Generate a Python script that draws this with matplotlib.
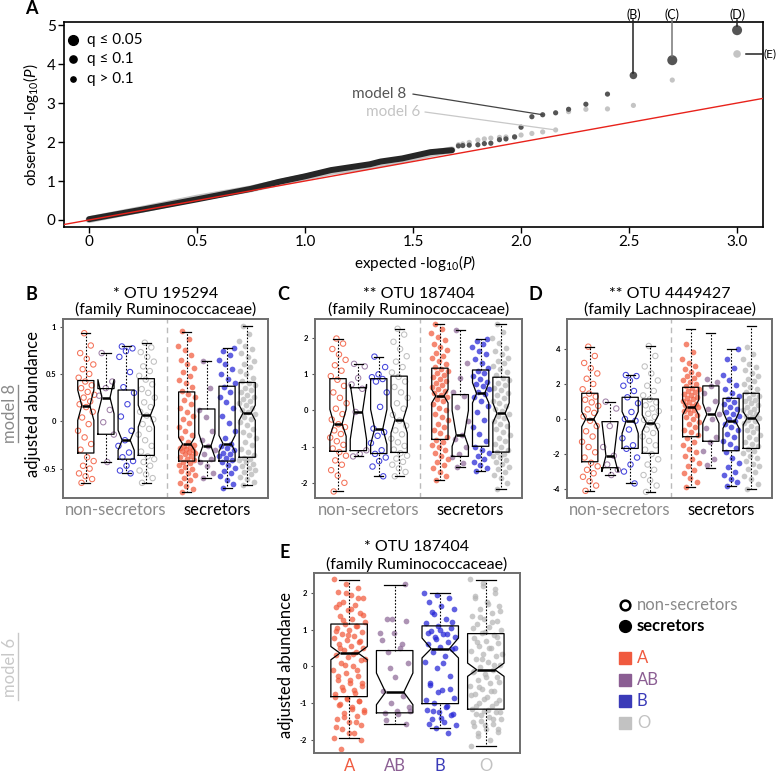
import numpy as np
import matplotlib
matplotlib.use('Agg')
import matplotlib.pyplot as plt
from matplotlib.lines import Line2D
from matplotlib.patches import Rectangle

plt.rcParams['font.family'] = ['Lato', 'DejaVu Sans']
plt.rcParams['mathtext.fontset'] = 'custom'
plt.rcParams['mathtext.rm'] = 'Lato'
plt.rcParams['mathtext.it'] = 'Lato:italic'

# ---------------- data: panel A (QQ plot) ----------------
# upper tail, one point per OTU (expected, observed -log10 P)
qq_expected = [3.00, 2.70, 2.52, 2.40, 2.30, 2.22, 2.16, 2.10, 2.05, 2.00,
               1.97, 1.93, 1.90, 1.86, 1.83, 1.80, 1.76, 1.73, 1.71]
qq_obs_m8 = [4.87, 4.10, 3.71, 3.23, 2.97, 2.84, 2.75, 2.70, 2.65, 2.38,
             2.13, 2.08, 2.06, 1.97, 1.96, 1.93, 1.92, 1.91, 1.90]
qq_obs_m6 = [4.26, 3.59, 2.94, 2.85, 2.84, 2.78, 2.31, 2.26, 2.22, 2.18,
             2.14, 2.13, 2.12, 2.10, 2.08, 2.05, 1.99, 1.95, 1.93]
# significance class: 2 = q<=0.05, 1 = q<=0.1, 0 = q>0.1
qq_sig_m8 = [2, 2, 1] + [0] * 16
qq_sig_m6 = [1] + [0] * 18
# dense lower part of the curve
band_expected = [0.0, 0.25, 0.5, 0.75, 0.88, 1.0, 1.12, 1.3, 1.35, 1.45, 1.58, 1.68]
band_obs_m8 = [0.02, 0.27, 0.53, 0.80, 0.98, 1.12, 1.28, 1.43, 1.50, 1.58, 1.74, 1.79]
band_obs_m6 = [0.01, 0.28, 0.56, 0.80, 0.96, 1.10, 1.24, 1.38, 1.44, 1.54, 1.70, 1.80]

# ---------------- data: box panels ----------------
blood = ['A', 'AB', 'B', 'O']
# per group: whisker low, q1, notch low, median, notch high, q3, whisker high
# order: non-secretors A, AB, B, O, secretors A, AB, B, O
stats_B = [
    [-0.65, -0.335, 0.01, 0.166, 0.33, 0.43, 0.93],
    [-0.43, -0.137, 0.08, 0.25, 0.44, 0.345, 0.72],
    [-0.55, -0.40, -0.306, -0.20, -0.095, 0.33, 0.79],
    [-0.65, -0.36, -0.06, 0.063, 0.17, 0.45, 0.83],
    [-0.75, -0.42, -0.31, -0.24, -0.17, 0.31, 0.94],
    [-0.60, -0.42, -0.38, -0.26, -0.13, 0.13, 0.64],
    [-0.70, -0.42, -0.32, -0.235, -0.15, 0.37, 0.77],
    [-0.67, -0.38, 0.01, 0.09, 0.17, 0.41, 1.01],
]
stats_C = [
    [-2.24, -1.13, -0.71, -0.37, 0.03, 0.88, 1.99],
    [-1.27, -1.11, -0.80, -0.04, 0.72, 0.63, 1.29],
    [-1.82, -1.19, -0.94, -0.50, 0.03, 0.88, 1.49],
    [-1.82, -1.16, -0.62, -0.25, 0.12, 0.95, 2.26],
    [-1.93, -0.80, 0.21, 0.40, 0.58, 1.17, 2.38],
    [-1.57, -1.27, -0.99, -0.67, 0.0, 0.44, 2.23],
    [-1.68, -0.99, 0.21, 0.47, 0.77, 1.12, 1.99],
    [-2.17, -1.15, -0.34, -0.08, 0.21, 0.92, 2.38],
]
stats_D = [
    [-4.10, -2.44, -0.44, 0.0, 0.42, 1.47, 4.13],
    [-3.20, -2.78, -3.00, -2.10, -0.15, -0.15, 0.99],
    [-3.68, -1.68, -0.82, -0.10, 0.42, 1.24, 2.51],
    [-4.16, -1.96, -0.71, -0.21, 0.23, 1.14, 4.17],
    [-3.90, -1.01, 0.23, 0.67, 1.09, 1.81, 5.12],
    [-2.82, -1.27, -0.24, 0.27, 0.90, 1.89, 4.90],
    [-3.80, -1.81, -0.53, -0.10, 0.42, 1.18, 4.00],
    [-3.98, -1.68, -0.34, 0.06, 0.42, 1.47, 5.33],
]
stats_E = [
    [-1.95, -0.82, 0.18, 0.36, 0.54, 1.15, 2.34],
    [-1.57, -1.26, -1.04, -0.70, -0.18, 0.43, 2.22],
    [-1.67, -1.01, 0.23, 0.48, 0.77, 1.10, 1.99],
    [-2.17, -1.16, -0.27, -0.09, 0.09, 0.89, 2.34],
]

# adjusted abundance of individual samples (per group, same order)
pts_B = [
    [-0.65, -0.61, -0.58, -0.55, -0.5, -0.47, -0.42, -0.38, -0.3, -0.24, -0.17, -0.1, -0.03, 0.04, 0.1, 0.15,
     0.18, 0.21, 0.25, 0.28, 0.31, 0.35, 0.38, 0.42, 0.46, 0.5, 0.55, 0.6, 0.66, 0.72, 0.8, 0.93],
    [0.72, 0.42, 0.35, 0.27, 0.12, -0.01, -0.14, -0.43],
    [0.79, 0.77, 0.74, 0.68, 0.52, 0.36, 0.3, 0.18, 0.05, -0.1, -0.2, -0.26, -0.33, -0.38, -0.42, -0.47, -0.52, -0.55],
    [-0.65, -0.6, -0.56, -0.52, -0.47, -0.43, -0.4, -0.37, -0.32, -0.26, -0.2, -0.14, -0.08, -0.03, 0.02, 0.06,
     0.1, 0.15, 0.2, 0.25, 0.3, 0.34, 0.39, 0.44, 0.48, 0.53, 0.58, 0.63, 0.68, 0.73, 0.78, 0.83],
    [-0.75, -0.71, -0.68, -0.65, -0.62, -0.6, -0.57, -0.55, -0.52, -0.5, -0.48, -0.46, -0.44, -0.43,
     -0.41, -0.4, -0.38, -0.37, -0.35, -0.34, -0.32, -0.31, -0.3, -0.29, -0.28, -0.27, -0.26, -0.25,
     -0.22, -0.18, -0.14, -0.1, -0.06, -0.02, 0.02, 0.06, 0.1, 0.14, 0.18, 0.22, 0.26, 0.29,
     0.32, 0.36, 0.4, 0.44, 0.48, 0.52, 0.56, 0.6, 0.65, 0.7, 0.75, 0.8, 0.87, 0.95],
    [-0.6, -0.55, -0.47, -0.43, -0.4, -0.35, -0.3, -0.26, -0.2, -0.1, 0.05, 0.12, 0.35, 0.64],
    [-0.7, -0.66, -0.62, -0.58, -0.55, -0.52, -0.49, -0.46, -0.43, -0.41, -0.39, -0.37, -0.35, -0.33, -0.3, -0.28,
     -0.26, -0.24, -0.18, -0.1, -0.02, 0.06, 0.14, 0.2, 0.26, 0.31, 0.36, 0.4, 0.45, 0.5, 0.55, 0.6, 0.65, 0.7,
     0.74, 0.77],
    [-0.67, -0.64, -0.61, -0.59, -0.56, -0.54, -0.51, -0.49, -0.47, -0.45, -0.43, -0.41, -0.4, -0.39,
     -0.36, -0.32, -0.29, -0.25, -0.22, -0.18, -0.15, -0.11, -0.08, -0.04, -0.01, 0.02, 0.05, 0.08,
     0.1, 0.12, 0.14, 0.17, 0.19, 0.21, 0.24, 0.26, 0.28, 0.31, 0.33, 0.35, 0.38, 0.4,
     0.43, 0.46, 0.5, 0.53, 0.57, 0.6, 0.64, 0.68, 0.72, 0.76, 0.8, 0.85, 0.92, 1.01],
]
pts_C = [
    [-2.24, -2.0, -1.8, -1.65, -1.5, -1.38, -1.25, -1.15, -1.05, -0.95, -0.85, -0.75, -0.65, -0.55, -0.46, -0.38,
     -0.25, -0.1, 0.05, 0.2, 0.35, 0.5, 0.68, 0.85, 0.95, 1.1, 1.25, 1.4, 1.55, 1.7, 1.85, 1.99],
    [1.29, 1.22, 0.9, 0.72, 0.6, -0.04, -1.1, -1.2, -1.27],
    [1.49, 1.2, 1.0, 0.92, 0.87, 0.8, 0.5, 0.1, -0.5, -0.6, -0.7, -0.9, -1.1, -1.2, -1.3, -1.4, -1.55, -1.82],
    [-1.82, -1.7, -1.6, -1.5, -1.42, -1.33, -1.25, -1.18, -1.08, -0.98, -0.88, -0.78, -0.66, -0.55, -0.42, -0.28,
     -0.12, 0.05, 0.2, 0.35, 0.5, 0.65, 0.8, 0.93, 1.05, 1.2, 1.35, 1.5, 1.7, 1.9, 2.1, 2.26],
    [-1.93, -1.8, -1.7, -1.6, -1.5, -1.42, -1.34, -1.26, -1.18, -1.1, -1.02, -0.95, -0.88, -0.82,
     -0.72, -0.63, -0.54, -0.45, -0.36, -0.27, -0.18, -0.09, 0.0, 0.08, 0.17, 0.25, 0.32, 0.38,
     0.44, 0.49, 0.55, 0.6, 0.66, 0.71, 0.77, 0.82, 0.88, 0.93, 0.99, 1.04, 1.1, 1.15,
     1.2, 1.28, 1.36, 1.44, 1.52, 1.6, 1.68, 1.76, 1.85, 1.94, 2.03, 2.13, 2.25, 2.38],
    [2.23, 1.3, 0.9, 0.5, 0.4, 0.1, -0.3, -0.67, -0.8, -1.0, -1.2, -1.3, -1.45, -1.57],
    [-1.68, -1.6, -1.5, -1.42, -1.33, -1.25, -1.17, -1.08, -1.0, -0.85, -0.65, -0.45, -0.25, -0.05, 0.12, 0.27,
     0.38, 0.46, 0.52, 0.6, 0.67, 0.74, 0.8, 0.88, 0.95, 1.03, 1.1, 1.18, 1.3, 1.42, 1.55, 1.65, 1.75, 1.85,
     1.93, 1.99],
    [-2.17, -2.0, -1.88, -1.78, -1.7, -1.62, -1.55, -1.48, -1.42, -1.36, -1.3, -1.25, -1.2, -1.16,
     -1.08, -1.0, -0.92, -0.84, -0.76, -0.68, -0.6, -0.52, -0.44, -0.36, -0.28, -0.21, -0.14, -0.09,
     -0.02, 0.05, 0.12, 0.2, 0.27, 0.34, 0.42, 0.49, 0.56, 0.63, 0.7, 0.77, 0.84, 0.91,
     0.98, 1.06, 1.14, 1.22, 1.3, 1.38, 1.46, 1.55, 1.64, 1.74, 1.86, 2.0, 2.18, 2.38],
]
pts_D = [
    [-4.1, -3.8, -3.55, -3.3, -3.1, -2.9, -2.7, -2.5, -2.2, -1.9, -1.6, -1.3, -1.0, -0.7, -0.4, -0.1,
     0.15, 0.35, 0.55, 0.75, 0.95, 1.1, 1.28, 1.45, 1.7, 2.0, 2.3, 2.6, 2.9, 3.2, 3.6, 4.13],
    [0.99, 0.6, -0.4, -1.6, -2.1, -2.6, -2.9, -3.2],
    [2.51, 2.45, 2.2, 1.9, 1.6, 1.24, 0.9, 0.4, 0.0, -0.1, -0.6, -1.1, -1.5, -1.7, -2.2, -2.6, -3.0, -3.68],
    [-4.16, -3.8, -3.5, -3.2, -2.9, -2.6, -2.3, -2.0, -1.75, -1.5, -1.25, -1.0, -0.8, -0.6, -0.4, -0.22,
     -0.05, 0.12, 0.3, 0.45, 0.6, 0.78, 0.95, 1.12, 1.35, 1.6, 1.9, 2.2, 2.6, 3.0, 3.6, 4.17],
    [-3.9, -3.6, -3.35, -3.1, -2.9, -2.7, -2.5, -2.3, -2.1, -1.9, -1.7, -1.5, -1.3, -1.1,
     -0.9, -0.75, -0.6, -0.45, -0.3, -0.15, 0.0, 0.12, 0.24, 0.35, 0.45, 0.53, 0.6, 0.66,
     0.72, 0.8, 0.88, 0.96, 1.04, 1.12, 1.2, 1.28, 1.36, 1.44, 1.52, 1.6, 1.7, 1.79,
     1.9, 2.0, 2.1, 2.2, 2.32, 2.44, 2.56, 2.7, 2.85, 3.0, 3.2, 3.45, 3.8, 4.3],
    [2.3, 2.1, 1.9, 1.5, 1.0, 0.6, 0.27, 0.0, -0.5, -1.0, -1.3, -1.8, -2.3, -2.6],
    [-3.8, -3.6, -3.4, -3.2, -3.0, -2.75, -2.5, -2.2, -1.9, -1.65, -1.45, -1.25, -1.05, -0.85, -0.65, -0.45,
     -0.28, -0.12, 0.0, 0.15, 0.28, 0.42, 0.56, 0.7, 0.84, 0.98, 1.15, 1.3, 1.5, 1.7, 1.95, 2.2, 2.5, 2.9,
     3.4, 4.0],
    [-3.98, -3.7, -3.45, -3.25, -3.05, -2.85, -2.7, -2.55, -2.4, -2.25, -2.1, -1.95, -1.82, -1.7,
     -1.55, -1.42, -1.29, -1.16, -1.03, -0.9, -0.77, -0.64, -0.51, -0.38, -0.25, -0.13, -0.03, 0.04,
     0.1, 0.2, 0.3, 0.4, 0.5, 0.6, 0.7, 0.8, 0.9, 1.0, 1.1, 1.2, 1.3, 1.42,
     1.55, 1.7, 1.85, 2.0, 2.15, 2.3, 2.45, 2.6, 2.78, 2.96, 3.15, 3.4, 3.7, 4.1],
]
# model 6 (panel E) uses the same OTU as panel C, all samples pooled per blood group
pts_E = [pts_C[k] + pts_C[k + 4] for k in range(4)]

ticks_B = [-0.5, 0, 0.5, 1]
ticks_C = [-2, -1, 0, 1, 2]
ticks_D = [-4, -2, 0, 2, 4]
ticks_E = [-2, -1, 0, 1, 2]

# ---------------- styling ----------------
blood_colors = ['#f25a3c', '#8e6a98', '#2424d6', '#b5b5b5']
legend_colors = ['#f05a3f', '#8b5e93', '#3a3ab8', '#c2c2c2']
m8_color = '#555555'
m6_color = '#c4c4c4'

W, H = 779, 773
fig = plt.figure(figsize=(W / 100, H / 100), dpi=100)


def axes_px(l, t, r, b):
    return fig.add_axes([l / W, 1 - b / H, (r - l) / W, (b - t) / H])


def text_px(x, y, s, **kw):
    kw.setdefault('ha', 'center')
    kw.setdefault('va', 'center')
    return fig.text(x / W, 1 - y / H, s, **kw)


def line_px(xs, ys, **kw):
    fig.add_artist(Line2D([x / W for x in xs], [1 - y / H for y in ys], **kw))


# ---------------- panel A ----------------
axA = axes_px(64, 22, 763, 227)
axA.set_xlim(-0.116, 3.12)
axA.set_ylim(-0.18, 5.08)
axA.plot(band_expected, band_obs_m6, color=m6_color, lw=5, solid_capstyle='round', zorder=2)
axA.plot(band_expected, band_obs_m8, color='#262626', lw=4.3, solid_capstyle='round', zorder=3)
axA.plot([-0.3, 3.3], [-0.3, 3.3], color='#e8221b', lw=1, zorder=4)
sig_size = {0: 14, 1: 30, 2: 52}
axA.scatter(qq_expected, qq_obs_m6, s=[sig_size[k] for k in qq_sig_m6], color=m6_color,
            linewidths=0, zorder=5)
axA.scatter(qq_expected, qq_obs_m8, s=[sig_size[k] for k in qq_sig_m8], color=m8_color,
            linewidths=0, zorder=6)

axA.set_xticks([0, 0.5, 1, 1.5, 2, 2.5, 3])
axA.set_xticklabels(['0', '0.5', '1.0', '1.5', '2.0', '2.5', '3.0'])
axA.set_yticks([0, 1, 2, 3, 4, 5])
axA.tick_params(labelsize=11, length=4, width=1, pad=2)
for sp in axA.spines.values():
    sp.set_linewidth(1.2)

# annotations of the model lines
axA.plot([1.50, 2.10], [3.23, 2.70], color='#444444', lw=0.9, zorder=7)
axA.text(1.47, 3.23, 'model 8', ha='right', va='center', fontsize=11, color=m8_color)
axA.plot([1.556, 2.16], [2.77, 2.31], color='#c8c8c8', lw=0.9, zorder=7)
axA.text(1.532, 2.77, 'model 6', ha='right', va='center', fontsize=11, color=m6_color)

axA.plot([2.52, 2.52], [5.12, 3.78], color='#222222', lw=1.1, clip_on=False, zorder=7)
axA.text(2.52, 5.27, '(B)', ha='center', va='center', fontsize=9)
axA.plot([2.70, 2.70], [5.12, 4.20], color='#777777', lw=1.1, clip_on=False, zorder=7)
axA.text(2.70, 5.27, '(C)', ha='center', va='center', fontsize=9)
axA.plot([3.00, 3.00], [5.12, 4.97], color='#222222', lw=1.1, clip_on=False, zorder=7)
axA.text(3.00, 5.27, '(D)', ha='center', va='center', fontsize=9)
axA.plot([3.04, 3.12], [4.26, 4.26], color='#222222', lw=1.1, clip_on=False, zorder=7)
axA.text(3.122, 4.26, '(E)', ha='left', va='center', fontsize=8.5)

# q legend
for yy, ms, lab in [(40, 7.0, 'q ≤ 0.05'), (59, 5.2, 'q ≤ 0.1'), (79, 3.8, 'q > 0.1')]:
    fig.add_artist(Line2D([73 / W], [1 - yy / H], marker='o', markersize=ms, color='black', lw=0))
    text_px(87, yy, lab, ha='left', fontsize=11)

text_px(31, 125, r'observed -log$_{10}$($\it{P}$)', rotation=90, fontsize=11)
text_px(415, 263, r'expected -log$_{10}$($\it{P}$)', fontsize=11)
text_px(31, 9, 'A', fontsize=13, fontweight='bold')


# ---------------- box panels ----------------
def box_panel(ax, stats, points, positions, hollow, jitter, ticks):
    for k, (vals, x0) in enumerate(zip(points, positions)):
        col = blood_colors[k % 4]
        n = len(vals)
        dx = ((np.arange(n) * 0.618034 + 0.25) % 1 - 0.5) * jitter
        if hollow[k]:
            ax.scatter(x0 + dx, vals, s=15, facecolors='none', edgecolors=col, linewidths=0.75,
                       alpha=0.85, zorder=1)
        else:
            ax.scatter(x0 + dx, vals, s=17, color=col, alpha=0.72, linewidths=0, zorder=1)
    bstats = [dict(whislo=s[0], q1=s[1], cilo=s[2], med=s[3], cihi=s[4], q3=s[5], whishi=s[6], fliers=[])
              for s in stats]
    ax.bxp(bstats, positions=positions, widths=0.8, shownotches=True, showfliers=False,
           capwidths=0.45, manage_ticks=False,
           boxprops=dict(color='black', lw=0.9, zorder=3),
           medianprops=dict(color='black', lw=1.8, zorder=4),
           whiskerprops=dict(color='black', lw=0.8, linestyle=(0, (1.5, 1.5)), zorder=3),
           capprops=dict(color='black', lw=0.9, zorder=3))
    ax.set_xticks([])
    ax.set_yticks(ticks)
    ax.set_yticklabels([('%g' % t) for t in ticks])
    ax.tick_params(axis='y', labelsize=5.5, length=2, width=0.8, color='#555555', pad=3)
    for lab in ax.get_yticklabels():
        lab.set_fontweight('bold')
    for sp in ax.spines.values():
        sp.set_color('#6e6e6e')
        sp.set_linewidth(1.4)


pos8 = [1, 2, 3, 4, 6, 7, 8, 9]
hollow8 = [True] * 4 + [False] * 4
panels = [
    ('B', '* OTU 195294', '(family Ruminococcaceae)', stats_B, pts_B, ticks_B, (63, 268), (-0.81, 1.08)),
    ('C', '** OTU 187404', '(family Ruminococcaceae)', stats_C, pts_C, ticks_C, (315, 522), (-2.42, 2.53)),
    ('D', '** OTU 4449427', '(family Lachnospiraceae)', stats_D, pts_D, ticks_D, (567, 772), (-4.51, 5.71)),
]
for letter, t1, t2, st, pts, tks, (l, r), ylim in panels:
    ax = axes_px(l, 319, r, 498)
    box_panel(ax, st, pts, pos8, hollow8, 0.85, tks)
    ax.set_xlim(-0.13, 10.03)
    ax.set_ylim(*ylim)
    ax.axvline(5, color='#bbbbbb', lw=1, dashes=(4, 3), zorder=0)
    tr = ax.get_xaxis_transform()
    ax.text(2.5, -0.067, 'non-secretors', transform=tr, ha='center', va='center', fontsize=12,
            color='#8a8a8a')
    ax.text(7.5, -0.067, 'secretors', transform=tr, ha='center', va='center', fontsize=12, color='black')
    cx = (l + r) / 2
    text_px(cx, 294, t1, fontsize=11.5)
    text_px(cx, 309, t2, fontsize=11.5)
    text_px(l - 32, 295, letter, fontsize=13, fontweight='bold')

text_px(33, 404, 'adjusted abundance', rotation=90, fontsize=12)
text_px(10, 413, 'model 8', rotation=90, fontsize=12, color='#8a8a8a')
line_px([18, 18], [385, 442], color='#8a8a8a', lw=1)

# panel E
axE = axes_px(314, 573, 520, 753)
box_panel(axE, stats_E, pts_E, [1, 2, 3, 4], [False] * 4, 0.7, ticks_E)
axE.set_xlim(0.23, 4.75)
axE.set_ylim(-2.35, 2.535)
trE = axE.get_xaxis_transform()
for k, name in enumerate(blood):
    axE.text(k + 1, -0.072, name, transform=trE, ha='center', va='center', fontsize=12,
             color=legend_colors[k])
text_px(417, 547, '* OTU 187404', fontsize=11.5)
text_px(417, 564, '(family Ruminococcaceae)', fontsize=11.5)
text_px(285, 552, 'E', fontsize=13, fontweight='bold')
text_px(286, 665, 'adjusted abundance', rotation=90, fontsize=12)
text_px(10, 667, 'model 6', rotation=90, fontsize=12, color='#c8c8c8')
line_px([18, 18], [633, 700], color='#c8c8c8', lw=1)

# right-hand legend
fig.add_artist(Line2D([625 / W], [1 - 605 / H], marker='o', markersize=7, markerfacecolor='white',
                      markeredgecolor='black', markeredgewidth=1.8, lw=0))
text_px(637, 605, 'non-secretors', ha='left', fontsize=12, color='#8a8a8a')
fig.add_artist(Line2D([625 / W], [1 - 626 / H], marker='o', markersize=8.5, color='black', lw=0))
text_px(637, 626, 'secretors', ha='left', fontsize=12, color='black', fontweight='bold')
for k, name in enumerate(blood):
    yy = 658 + 21.7 * k
    fig.add_artist(Rectangle(((619) / W, 1 - (yy + 6) / H), 12 / W, 12 / H, color=legend_colors[k]))
    text_px(637, yy, name, ha='left', fontsize=12, color=legend_colors[k])

fig.savefig('out.png', dpi=100)
